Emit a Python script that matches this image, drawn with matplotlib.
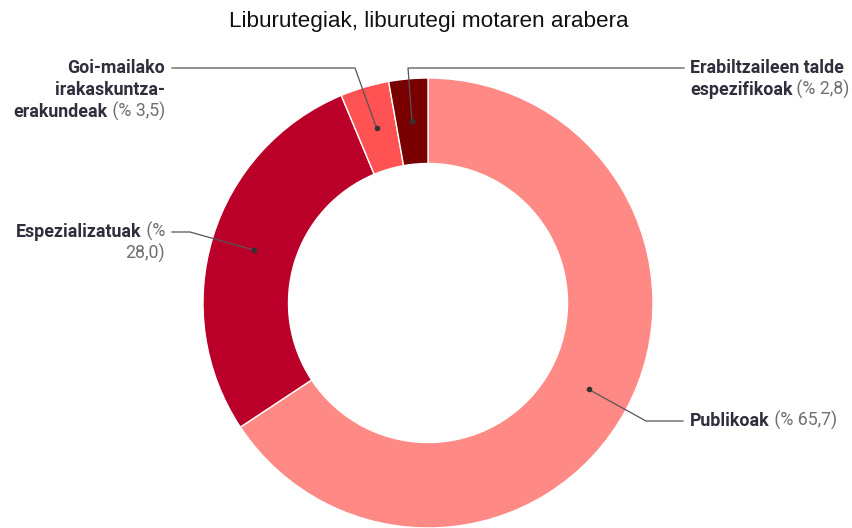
import matplotlib
matplotlib.use("Agg")
import matplotlib.pyplot as plt
import numpy as np

# ---- data ----
categories = ["Publikoak", "Espezializatuak", "Goi-mailako irakaskuntza-erakundeak",
              "Erabiltzaileen talde espezifikoak"]
values = [65.7, 28.0, 3.5, 2.8]
colors = ["#FF8A85", "#BA0028", "#FF5252", "#780000"]
title = "Liburutegiak, liburutegi motaren arabera"

W, H = 853, 528
fig = plt.figure(figsize=(W / 100, H / 100), dpi=100)
cx, cy, R = 428, 303, 225  # pixel center (from top) and radius
ax = fig.add_axes([(cx - R) / W, (H - cy - R) / H, 2 * R / W, 2 * R / H])

width = 0.38
wedges, _ = ax.pie(values, colors=colors, startangle=90, counterclock=False,
                   radius=1.0, wedgeprops=dict(width=width, edgecolor="white", linewidth=1))
for w in wedges:
    w.set_clip_on(False)
ax.set_xlim(-1, 1)
ax.set_ylim(-1, 1)
ax.set_aspect("auto")
ax.axis("off")

fig.text(429 / W, 1 - 22 / H, title, ha="center", va="center",
         fontsize=16.2, family="Liberation Sans", color="#111111")

def px(xp, yp):
    return ((xp - cx) / R, (cy - yp) / R)

FS = 12.8
FAM = "Roboto"
DARK = "#2e2e3c"
GRAY = "#707070"
LINE = "#555555"

def fmt(v):
    return f"{v:.1f}".replace(".", ",")

def rich(x, y, parts, ha):
    """parts: list of (text, bold, color) drawn on one line"""
    if ha == "left":
        t = ax.text(x, y, parts[0][0], ha="left", va="baseline", fontsize=FS, family=FAM,
                    fontweight="bold" if parts[0][1] else "normal", color=parts[0][2])
        for s, b, c in parts[1:]:
            t = ax.annotate(s, xy=(1, 0), xycoords=t, ha="left", va="bottom", fontsize=FS,
                            family=FAM, fontweight="bold" if b else "normal", color=c)
    else:
        s, b, c = parts[-1]
        t = ax.text(x, y, s, ha="right", va="baseline", fontsize=FS, family=FAM,
                    fontweight="bold" if b else "normal", color=c)
        for s, b, c in reversed(parts[:-1]):
            t = ax.annotate(s, xy=(0, 0), xycoords=t, ha="right", va="bottom", fontsize=FS,
                            family=FAM, fontweight="bold" if b else "normal", color=c)

# mid angles & dots
total = sum(values)
r_mid = 1 - width / 2
angles = []
a = 90.0
for v in values:
    span = v / total * 360
    angles.append(np.deg2rad(a - span / 2))
    a -= span

# leader layout: (elbow px, end px)
layout = [
    ((646, 421), (683, 421)),
    ((190, 232), (172, 232)),
    ((355, 68), (172, 68)),
    ((408, 68), (684, 68)),
]

for i, (el, en) in enumerate(layout):
    ang = angles[i]
    dx, dy = r_mid * np.cos(ang), r_mid * np.sin(ang)
    ex, ey = px(*el)
    nx, ny = px(*en)
    ax.plot([dx, ex, nx], [dy, ey, ny], color=LINE, lw=0.9, clip_on=False, zorder=5)
    ax.plot([dx], [dy], "o", color="#333333", ms=3, clip_on=False, zorder=6)

pct = [f" (% {fmt(v)})" for v in values]

def ty(yp):
    return px(0, yp + 5)[1]

XL = px(165, 0)[0]
XR = px(690, 0)[0]
# Publikoak
rich(XR, ty(421), [("Publikoak", True, DARK), (pct[0], False, GRAY)], "left")
# Espezializatuak
rich(XL, ty(232), [("Espezializatuak", True, DARK), (" (%", False, GRAY)], "right")
rich(XL, ty(254), [(f"{fmt(values[1])})", False, GRAY)], "right")
# Goi-mailako
rich(XL, ty(68), [("Goi-mailako", True, DARK)], "right")
rich(XL, ty(90), [("irakaskuntza-", True, DARK)], "right")
rich(XL, ty(112), [("erakundeak", True, DARK), (pct[2], False, GRAY)], "right")
# Erabiltzaileen
rich(XR, ty(68), [("Erabiltzaileen talde", True, DARK)], "left")
rich(XR, ty(90), [("espezifikoak", True, DARK), (pct[3], False, GRAY)], "left")

fig.savefig("out.png", dpi=100)
